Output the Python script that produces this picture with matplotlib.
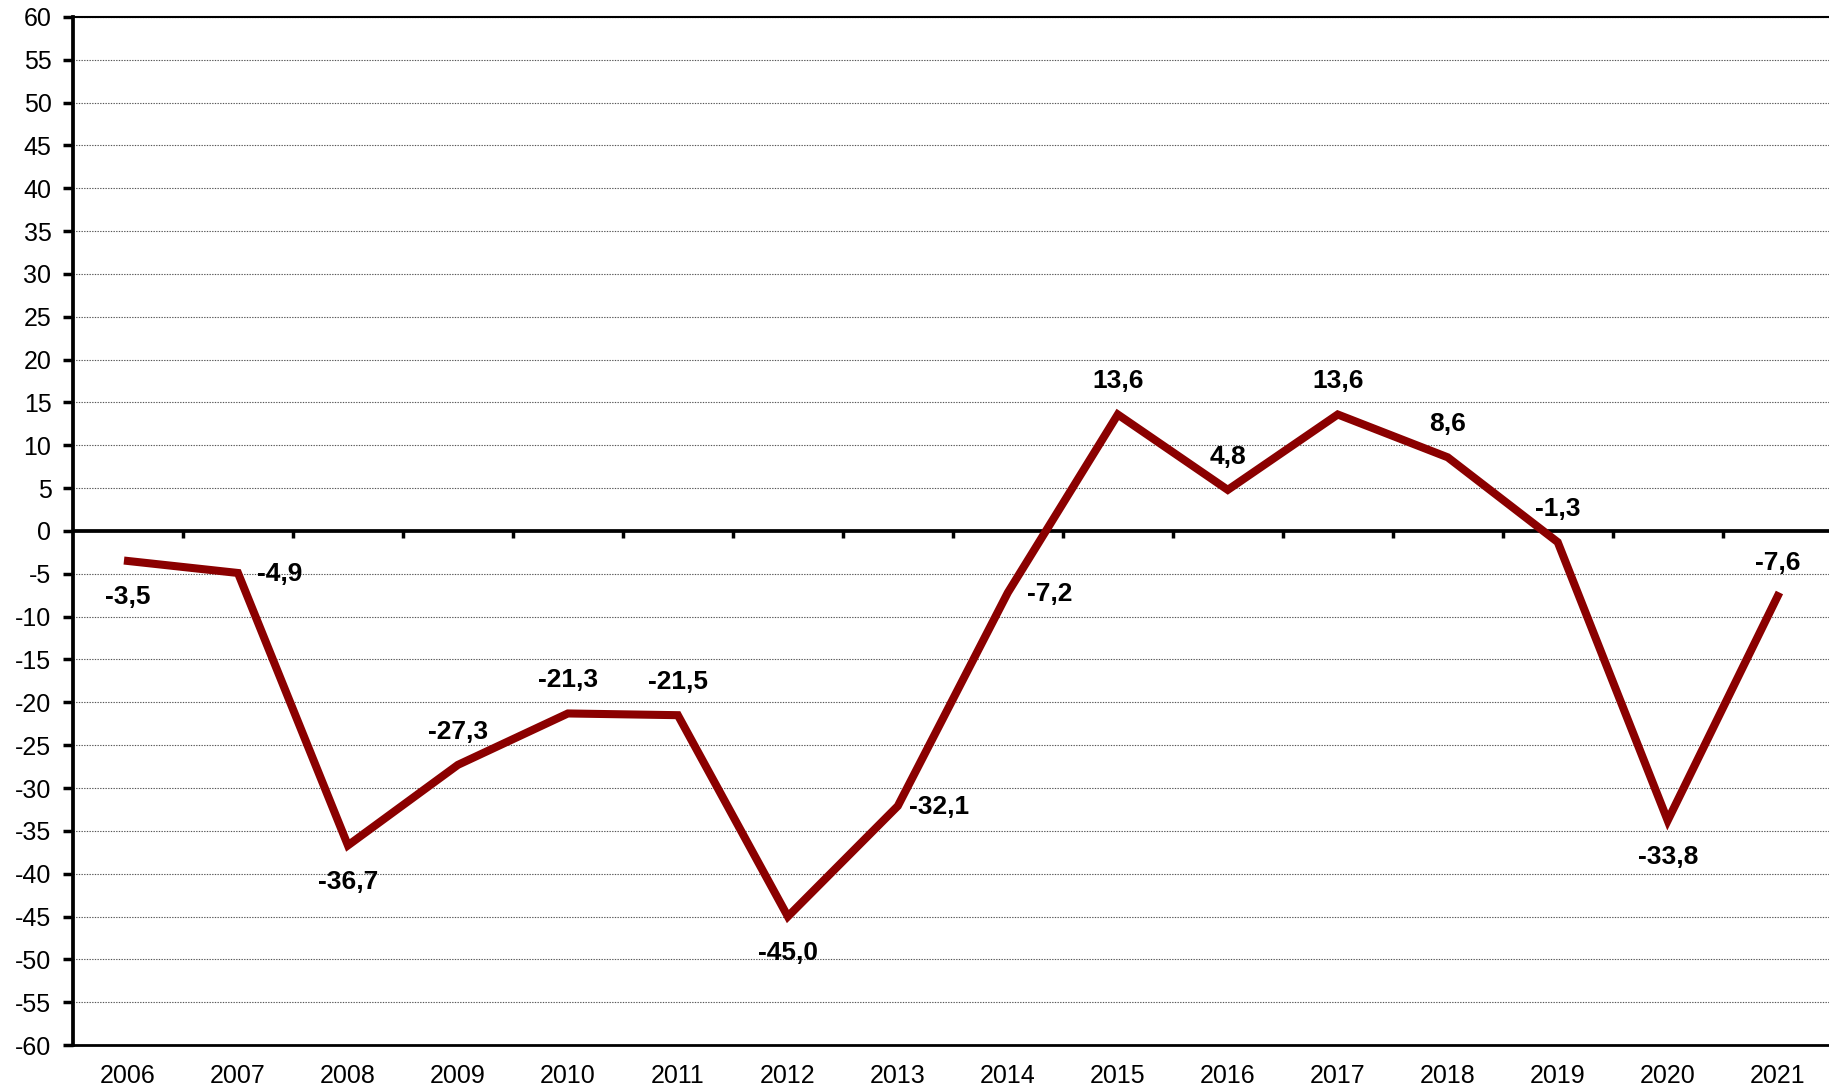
import numpy as np
import matplotlib.pyplot as plt

plt.rcParams['font.family'] = ['Liberation Sans', 'DejaVu Sans']
plt.rcParams['axes.unicode_minus'] = False

# data
years = ["2006", "2007", "2008", "2009", "2010", "2011", "2012", "2013",
         "2014", "2015", "2016", "2017", "2018", "2019", "2020", "2021"]
values = [-3.5, -4.9, -36.7, -27.3, -21.3, -21.5, -45.0, -32.1,
          -7.2, 13.6, 4.8, 13.6, 8.6, -1.3, -33.8, -7.6]
# where each value label sits relative to its point
label_side = ["below", "right", "below", "above", "above", "above", "below", "right",
              "right", "above", "above", "above", "above", "above", "below", "above"]

offsets = {"above": (0, 24), "below": (0, -26), "right": (30, -1)}

fig = plt.figure(figsize=(18.29, 10.89), dpi=100)
ax = fig.add_axes([0.0399, 0.0404, 0.9601 + 0.002, 0.944])

x = np.arange(len(years))
ax.plot(x, values, color="#8B0000", lw=5.8, solid_joinstyle="miter", zorder=3)

for xi, v, side in zip(x, values, label_side):
    label = f"{v:.1f}".replace(".", ",")
    ax.annotate(label, (xi, v), xytext=offsets[side], textcoords="offset points",
                ha="center", va="center", fontsize=19, fontweight="bold", zorder=4)

ax.set_xlim(-0.5, len(years) - 0.5)
ax.set_ylim(-60, 60)
ax.set_yticks(np.arange(-60, 61, 5))
ax.set_xticks(x, labels=years)
ax.tick_params(axis="x", length=0, pad=13.5, labelsize=18)
ax.tick_params(axis="y", length=7, width=2.5, pad=8.5, labelsize=18, direction="out")

ax.grid(axis="y", color="#555555", lw=0.8, linestyle=(0, (1.2, 1.2)))
ax.set_axisbelow(True)

ax.spines["left"].set_linewidth(2.7)
ax.spines["top"].set_linewidth(1.5)
ax.spines["bottom"].set_linewidth(2.0)
ax.spines["right"].set_visible(False)

# zero line with small downward ticks at category boundaries
boundaries = np.arange(-0.5, len(years) + 0.5, 1.0)
ax.axhline(0, color="black", lw=2.7, zorder=2)
ax.vlines(boundaries[1:], -0.8, 0, color="black", lw=2.5, zorder=2)

fig.savefig("out.png", dpi=100)
